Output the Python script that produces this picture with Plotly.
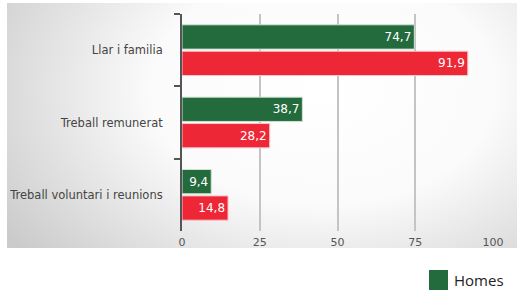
import base64
import plotly.graph_objects as go

categories = ["Llar i familia", "Treball remunerat", "Treball voluntari i reunions"]
homes = [74.7, 38.7, 9.4]
dones = [91.9, 28.2, 14.8]
x_ticks = [0, 25, 50, 75, 100]

GREEN = "#236B3C"
RED = "#EE2737"

def fmt(v):
    return f"{v:.1f}".replace(".", ",")

fig = go.Figure()
fig.add_trace(go.Bar(
    y=categories, x=homes, orientation="h", name="Homes",
    marker=dict(color=GREEN, line=dict(color="#cfe3d3", width=1)),
    text=[fmt(v) for v in homes], textposition="inside", insidetextanchor="end",
    textfont=dict(color="white", size=12, family="DejaVu Sans"),
    showlegend=False,
))
fig.add_trace(go.Bar(
    y=categories, x=dones, orientation="h", name="Dones",
    marker=dict(color=RED, line=dict(color="#f6c7cb", width=1)),
    text=[fmt(v) for v in dones], textposition="inside", insidetextanchor="end",
    textfont=dict(color="white", size=12, family="DejaVu Sans"),
    showlegend=False,
))

svg = """<svg xmlns='http://www.w3.org/2000/svg' width='510' height='245' viewBox='0 0 510 245'>
<defs><radialGradient id='g' cx='0.62' cy='0.35' r='0.75' gradientTransform='translate(0.62 0.35) scale(1 1.4) translate(-0.62 -0.35)'>
<stop offset='0' stop-color='#ffffff'/><stop offset='0.45' stop-color='#fbfbfb'/><stop offset='1' stop-color='#cbcbcb'/>
</radialGradient></defs><rect width='510' height='245' fill='url(#g)'/></svg>"""
src = "data:image/svg+xml;base64," + base64.b64encode(svg.encode()).decode()

L, R, T, B = 182, 493, 14, 231
W, H = R - L, B - T
def px(x): return (x - L) / W
def py(y): return (B - y) / H

fig.add_layout_image(dict(
    source=src, xref="paper", yref="paper",
    x=px(7), y=py(3), sizex=px(517) - px(7), sizey=py(3) - py(248),
    xanchor="left", yanchor="top", sizing="stretch", layer="below",
))

fig.add_shape(type="rect", xref="paper", yref="paper",
              x0=px(429), x1=px(448), y0=py(290), y1=py(270),
              fillcolor=GREEN, line=dict(width=0))
fig.add_annotation(xref="paper", yref="paper", x=px(452), y=py(280),
                   text="Homes", showarrow=False, xanchor="left", yanchor="middle",
                   font=dict(family="Open Sans", size=15, color="#222222"))

fig.update_layout(
    width=517, height=292,
    margin=dict(l=L, r=517 - R, t=T, b=292 - B),
    paper_bgcolor="white", plot_bgcolor="rgba(0,0,0,0)",
    barmode="group", bargap=0.27, bargroupgap=0.08,
    font=dict(family="DejaVu Sans", size=12, color="#444444"),
)
fig.update_xaxes(
    range=[0, 100], tickvals=x_ticks, showgrid=True, gridcolor="#c4c4c4", gridwidth=1.5,
    zeroline=False, showline=False, ticks="", tickfont=dict(size=11, color="#555555"),
    fixedrange=True, automargin=False, ticklabelstandoff=3,
)
fig.update_yaxes(
    autorange="reversed", showline=True, linecolor="#555555", linewidth=2,
    ticks="outside", tickson="boundaries", ticklen=6, tickcolor="#555555", tickwidth=2,
    showgrid=False, ticklabelstandoff=15, tickfont=dict(size=11.5, color="#444444"),
    automargin=False,
)
fig.write_html("out.html", config={"displayModeBar": False},
               post_script="document.body.style.margin='0';document.body.style.overflow='hidden';")
